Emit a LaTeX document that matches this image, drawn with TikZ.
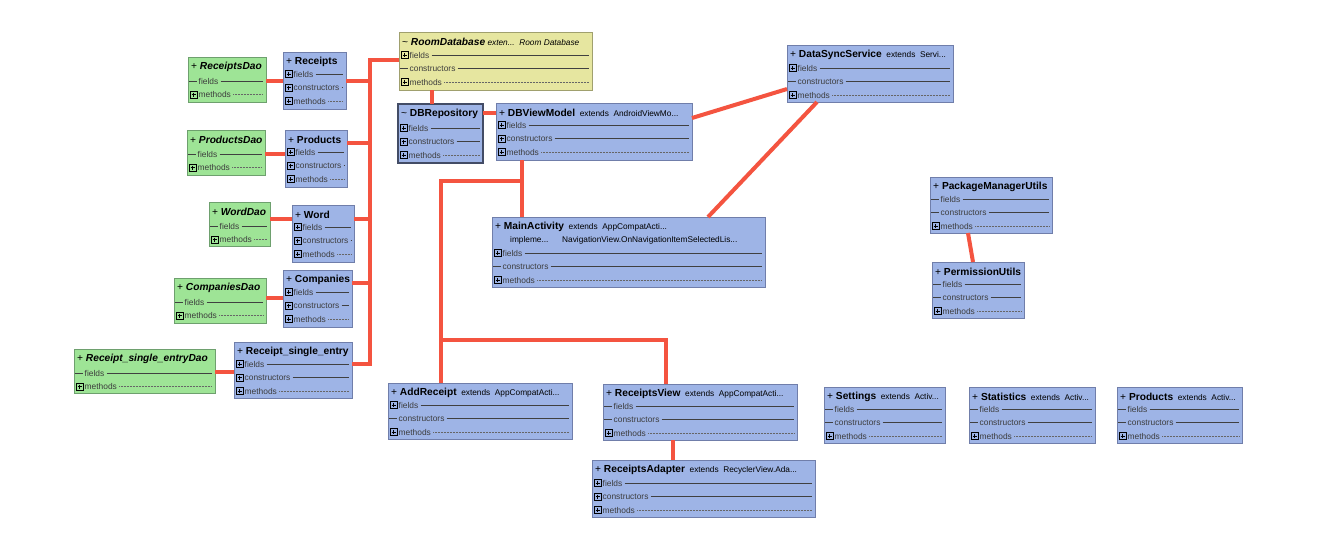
\documentclass[tikz,border=0pt]{standalone}
\usepackage{fontspec}
\setmainfont{Liberation Sans}
\usetikzlibrary{calc}
\definecolor{clsblue}{RGB}{158,180,230}
\definecolor{clsgreen}{RGB}{158,228,150}
\definecolor{clsyellow}{RGB}{230,230,160}
\definecolor{edgeblue}{RGB}{112,126,170}
\definecolor{edgegreen}{RGB}{110,160,110}
\definecolor{edgeyellow}{RGB}{160,160,110}
\definecolor{conn}{RGB}{244,84,64}
\definecolor{memgray}{RGB}{60,60,60}
\tikzset{
 classbox/.style={draw=edgeblue, line width=0.9pt, inner sep=0pt, outer sep=0pt},
 bluecls/.style={fill=clsblue},
 selcls/.style={fill=clsblue, draw=edgeblue!60!black, line width=1.2pt},
 greencls/.style={fill=clsgreen, draw=edgegreen},
 yellowcls/.style={fill=clsyellow, draw=edgeyellow},
 titletext/.style={inner sep=0pt, font=\fontsize{10.2}{12}\selectfont, anchor=west},
 subtext/.style={inner sep=0pt, font=\fontsize{8.3}{10}\selectfont, anchor=west},
 membertext/.style={inner sep=0pt, font=\fontsize{8.4}{10}\selectfont, text=memgray, anchor=west},
 rowline/.style={draw=black!75, line width=0.6pt},
 rowdots/.style={draw=black!60, line width=0.5pt, dash pattern=on 0.6pt off 0.9pt},
 assoc/.style={draw=conn, line width=4pt},
}
\newcommand{\ext}[1]{{\fontsize{8.3}{10}\selectfont\ \ extends\ \ #1}}
\newcommand{\umlclass}[9]{%
  \node[classbox,#6,minimum width=#4,minimum height=#5,anchor=north west] (#1) at (#2,#3) {};
  \node[titletext] (#1-title) at (#2+3,#3+10) {#7};
  \foreach \p/\t/\s [count=\i] in {#9}{%
    \pgfmathsetmacro{\ry}{#3+#8+13.5*(\i-1)}%
    \ifnum\p=1
      \draw[line width=0.5pt] (#2+2,\ry-3.5) rectangle (#2+9,\ry+3.5);
      \draw[line width=0.6pt] (#2+3.5,\ry) -- (#2+7.5,\ry) (#2+5.5,\ry-2) -- (#2+5.5,\ry+2);
    \else
      \draw[rowline] (#2+1,\ry) -- (#2+9,\ry);
    \fi
    \node[membertext] (#1-row\i) at (#2+10.5,\ry) {\t};
    \ifnum\s=1
      \draw[rowline] ([xshift=2pt]#1-row\i.east) -- (#2+#4-3,\ry);
    \else
      \draw[rowdots] ([xshift=2pt]#1-row\i.east) -- (#2+#4-3,\ry);
    \fi
  }%
}
\begin{document}
\begin{tikzpicture}[x=1pt,y=-1pt]
\useasboundingbox[fill=white] (0,0) rectangle (1318,550);

% DAO classes and entities
\umlclass{ReceiptsDao}{188}{57}{78}{45}{greencls}{+ \textbf{\textit{ReceiptsDao}}}{24}{0/fields/1,1/methods/0}
\umlclass{Receipts}{283}{52}{63}{57}{bluecls}{+ \textbf{Receipts}}{22}{1/fields/1,1/constructors/1,1/methods/0}
\umlclass{ProductsDao}{187}{130}{78}{45}{greencls}{+ \textbf{\textit{ProductsDao}}}{24}{0/fields/1,1/methods/0}
\umlclass{Products}{285}{130}{62}{57}{bluecls}{+ \textbf{Products}}{22}{1/fields/1,1/constructors/1,1/methods/0}
\umlclass{WordDao}{209}{202}{61}{44}{greencls}{+ \textbf{\textit{WordDao}}}{24}{0/fields/1,1/methods/0}
\umlclass{Word}{292}{205}{62}{57}{bluecls}{+ \textbf{Word}}{22}{1/fields/1,1/constructors/1,1/methods/0}
\umlclass{CompaniesDao}{174}{278}{92}{45}{greencls}{+ \textbf{\textit{CompaniesDao}}}{24}{0/fields/1,1/methods/0}
\umlclass{Companies}{283}{270}{69}{57}{bluecls}{+ \textbf{Companies}}{22}{1/fields/1,1/constructors/1,1/methods/0}
\umlclass{RSEDao}{74}{349}{141}{44}{greencls}{+ \textbf{\textit{Receipt\_single\_entryDao}}}{24}{0/fields/1,1/methods/0}
\umlclass{RSE}{234}{342}{118}{56}{bluecls}{+ \textbf{Receipt\_single\_entry}}{22}{1/fields/1,1/constructors/1,1/methods/0}

% database layer
\umlclass{RoomDatabase}{399}{32}{193}{58}{yellowcls}{\textasciitilde{} \textbf{\textit{RoomDatabase}}{\fontsize{8.3}{10}\selectfont\ \textit{exten...}\ \ \textit{Room Database}}}{23}{1/fields/1,0/constructors/1,1/methods/0}
\umlclass{DBRepository}{398}{104}{85}{59}{selcls}{\textasciitilde{} \textbf{DBRepository}}{24}{1/fields/1,1/constructors/1,1/methods/0}
\umlclass{DBViewModel}{496}{103}{196}{57}{bluecls}{+ \textbf{DBViewModel}\ext{AndroidViewMo...}}{22}{1/fields/1,1/constructors/1,1/methods/0}
\umlclass{DataSyncService}{787}{45}{166}{57}{bluecls}{+ \textbf{DataSyncService}\ext{Servi...}}{23}{1/fields/1,0/constructors/1,1/methods/0}
\umlclass{MainActivity}{492}{217}{273}{70}{bluecls}{+ \textbf{MainActivity}\ext{AppCompatActi...}}{36}{1/fields/1,0/constructors/1,1/methods/0}
\node[subtext] (MainActivity-impl) at (510,240) {impleme...};
\node[subtext] (MainActivity-iface) at (562,240) {NavigationView.OnNavigationItemSelectedLis...};

% utilities
\umlclass{PackageManagerUtils}{930}{177}{122}{56}{bluecls}{+ \textbf{PackageManagerUtils}}{22}{0/fields/1,0/constructors/1,1/methods/0}
\umlclass{PermissionUtils}{932}{262}{92}{56}{bluecls}{+ \textbf{PermissionUtils}}{22}{0/fields/1,0/constructors/1,1/methods/0}

% activities
\umlclass{AddReceipt}{388}{383}{184}{56}{bluecls}{+ \textbf{AddReceipt}\ext{AppCompatActi...}}{22}{1/fields/1,0/constructors/1,1/methods/0}
\umlclass{ReceiptsView}{603}{384}{194}{56}{bluecls}{+ \textbf{ReceiptsView}\ext{AppCompatActi...}}{22}{0/fields/1,0/constructors/1,1/methods/0}
\umlclass{ReceiptsAdapter}{592}{460}{223}{57}{bluecls}{+ \textbf{ReceiptsAdapter}\ext{RecyclerView.Ada...}}{23}{1/fields/1,1/constructors/1,1/methods/0}
\umlclass{Settings}{824}{387}{121}{56}{bluecls}{+ \textbf{Settings}\ext{Activ...}}{22}{0/fields/1,0/constructors/1,1/methods/0}
\umlclass{Statistics}{969}{387}{126}{56}{bluecls}{+ \textbf{Statistics}\ext{Activ...}}{22}{0/fields/1,0/constructors/1,1/methods/0}
\umlclass{ProductsAct}{1117}{387}{125}{56}{bluecls}{+ \textbf{Products}\ext{Activ...}}{22}{0/fields/1,0/constructors/1,1/methods/0}

% connectors: DAO -> entity
\path ($(ReceiptsDao.north east)+(0,24)$) coordinate (c1);
\draw[assoc] (c1) -- (c1 -| Receipts.west);
\path ($(ProductsDao.north east)+(0,24)$) coordinate (c2);
\draw[assoc] (c2) -- (c2 -| Products.west);
\path ($(WordDao.north east)+(0,17)$) coordinate (c3);
\draw[assoc] (c3) -- (c3 -| Word.west);
\path ($(CompaniesDao.north east)+(0,20)$) coordinate (c4);
\draw[assoc] (c4) -- (c4 -| Companies.west);
\path ($(RSEDao.north east)+(0,23)$) coordinate (c5);
\draw[assoc] (c5) -- (c5 -| RSE.west);

% bus to RoomDatabase
\coordinate (busTop) at ($(RoomDatabase.north west)+(-29,28)$);
\path ($(RSE.north east)+(0,22)$) coordinate (e5);
\draw[assoc] (busTop -| RoomDatabase.west) -- (busTop) -- (busTop |- e5) -- (e5);
\path ($(Receipts.north east)+(0,29)$) coordinate (e1);
\draw[assoc] (e1) -- (e1 -| busTop);
\path ($(Products.north east)+(0,13)$) coordinate (e2);
\draw[assoc] (e2) -- (e2 -| busTop);
\path ($(Word.north east)+(0,14)$) coordinate (e3);
\draw[assoc] (e3) -- (e3 -| busTop);
\path ($(Companies.north east)+(0,13)$) coordinate (e4);
\draw[assoc] (e4) -- (e4 -| busTop);

% database -> repository -> viewmodel
\path ($(RoomDatabase.south west)+(33,0)$) coordinate (r1);
\draw[assoc] (r1) -- (r1 |- DBRepository.north);
\path ($(DBRepository.north east)+(0,9)$) coordinate (r2);
\draw[assoc] (r2) -- (r2 -| DBViewModel.west);
\draw[assoc] ($(DBViewModel.north east)+(0,15)$) -- ($(DataSyncService.north west)+(0,44)$);
\draw[assoc] ($(DataSyncService.south west)+(30,0)$) -- ($(MainActivity.north west)+(216,0)$);

% viewmodel -> activities
\path ($(DBViewModel.south west)+(26,0)$) coordinate (v1);
\draw[assoc] (v1) -- (v1 |- MainActivity.north);
\coordinate (j1) at ($(v1)+(0,21)$);
\path ($(AddReceipt.north west)+(53,0)$) coordinate (a1);
\draw[assoc] (j1) -| (a1);
\coordinate (j2) at ($(a1)+(0,-43)$);
\path ($(ReceiptsView.north west)+(63,0)$) coordinate (rv1);
\draw[assoc] (j2) -| (rv1);
\path ($(ReceiptsView.south west)+(70,0)$) coordinate (rv2);
\draw[assoc] (rv2) -- (rv2 |- ReceiptsAdapter.north);

% utilities
\draw[assoc] ($(PackageManagerUtils.south west)+(38,0)$) -- ($(PermissionUtils.north west)+(41,0)$);
\end{tikzpicture}
\end{document}
